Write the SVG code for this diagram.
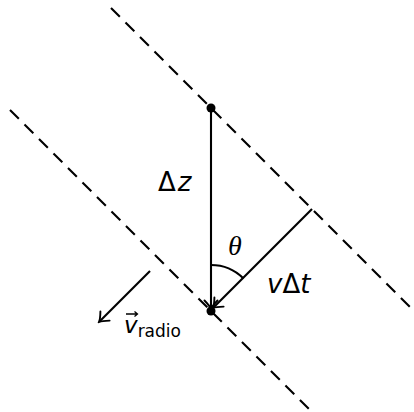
<svg xmlns="http://www.w3.org/2000/svg" width="414" height="412" viewBox="0 0 414 412">
<defs>
<style>
.dash{stroke:#000;stroke-width:2.1;stroke-dasharray:12.5 8;fill:none}
.ln{stroke:#000;stroke-width:2.1;fill:none}
.sans{font-family:"DejaVu Sans","Liberation Sans",sans-serif;fill:#000}
.it{font-style:italic}
</style>
<marker id="to" markerUnits="userSpaceOnUse" viewBox="-10 -8 12 16" refX="0" refY="0" markerWidth="12" markerHeight="16" orient="auto">
<path d="M -8.5 -6.5 Q -3 -1.2 0 0 Q -3 1.2 -8.5 6.5" fill="none" stroke="#000" stroke-width="1.9" stroke-linecap="round"/>
</marker>
</defs>
<rect width="414" height="412" fill="#fff"/>
<g id="planes">
<line class="dash" x1="111" y1="8" x2="412" y2="309"/>
<line class="dash" x1="10" y1="110" x2="311" y2="411"/>
</g>
<g id="connectors">
<line class="ln" x1="211" y1="108" x2="211" y2="309" marker-end="url(#to)"/>
<line class="ln" x1="312" y1="209" x2="213" y2="308" marker-end="url(#to)"/>
<line class="ln" x1="150" y1="271" x2="99" y2="322" marker-end="url(#to)"/>
<path class="ln" d="M 211 265 A 46 46 0 0 1 243.5 278.5"/>
</g>
<g id="points">
<circle cx="211" cy="108" r="4.5" fill="#000"/>
<circle cx="211" cy="311" r="4.5" fill="#000"/>
</g>
<g id="labels">
<text class="sans" x="158" y="191" font-size="26">Δ<tspan class="it" dx="2">z</tspan></text>
<text class="sans" x="267" y="293" font-size="26"><tspan class="it">v</tspan>Δ<tspan class="it">t</tspan></text>
<text x="235" y="255" font-size="28" font-family="'Liberation Serif','DejaVu Serif',serif" font-style="italic" text-anchor="middle">θ</text>
<text class="sans" x="124" y="333" font-size="23"><tspan class="it">v</tspan><tspan font-size="17" dy="4">radio</tspan></text>
<path d="M 126 314 H 137 M 134.5 311.5 L 137.5 314 L 134.5 316.5" fill="none" stroke="#000" stroke-width="1.3"/>
</g>
</svg>
